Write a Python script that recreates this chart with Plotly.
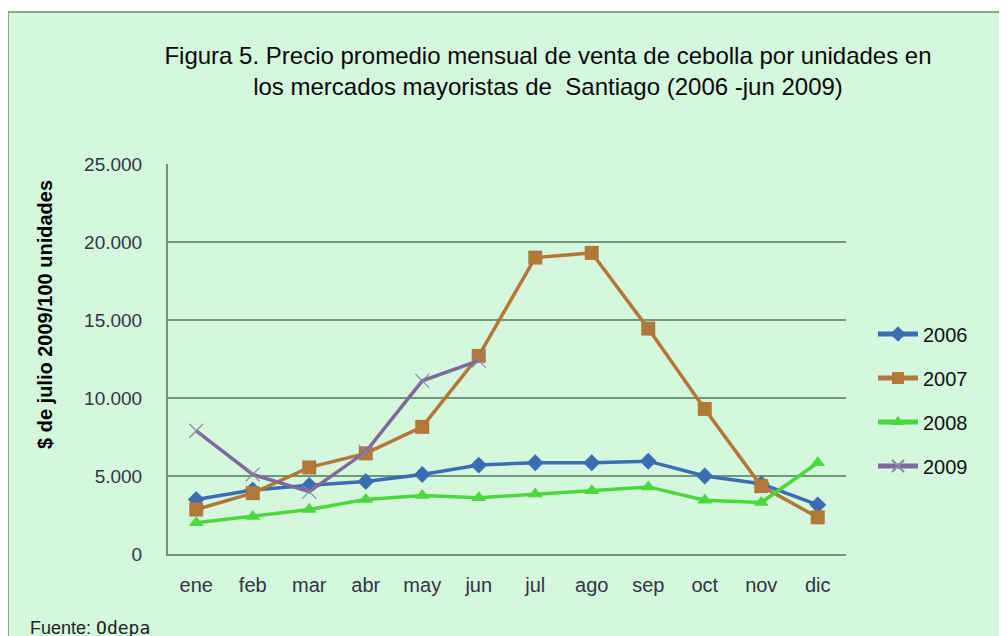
import plotly.graph_objects as go

months = ["ene", "feb", "mar", "abr", "may", "jun", "jul", "ago", "sep", "oct", "nov", "dic"]
y2006 = [3500, 4100, 4400, 4650, 5100, 5700, 5850, 5850, 5950, 5000, 4500, 3150]
y2007 = [2850, 3900, 5550, 6450, 8150, 12700, 19000, 19300, 14450, 9300, 4350, 2350]
y2008 = [2000, 2400, 2850, 3500, 3750, 3600, 3850, 4050, 4300, 3450, 3300, 5850]
months_2009 = ["ene", "feb", "mar", "abr", "may", "jun"]
y2009 = [7900, 5100, 4000, 6550, 11100, 12400]
y_ticks = [0, 5000, 10000, 15000, 20000, 25000]
y_tick_text = ["0", "5.000", "10.000", "15.000", "20.000", "25.000"]

BG = "#d5f7de"
GRID = "#6f9a78"
FONT = "Liberation Sans, Arial, sans-serif"

# page has an 8px body margin: figure coords = image coords - 8
L, T = 160, 156          # plot area left/top in figure coords
PW, PH = 678, 390        # plot area size
W, H = 1007, 636

def px(xi):
    return (xi - 8 - L) / PW

def py(yi):
    return (T + PH - (yi - 8)) / PH

fig = go.Figure()
fig.add_trace(go.Scatter(x=months, y=y2006, name="2006", mode="lines+markers",
                         line=dict(color="#3b6db3", width=3.5),
                         marker=dict(symbol="diamond", size=13, color="#3b6db3"),
                         legendgroup="a"))
fig.add_trace(go.Scatter(x=months, y=y2007, name="2007", mode="lines+markers",
                         line=dict(color="#b27838", width=3.5),
                         marker=dict(symbol="square", size=14, color="#b27838"),
                         legendgroup="b"))
fig.add_trace(go.Scatter(x=months, y=y2008, name="2008", mode="lines+markers",
                         line=dict(color="#4bd83c", width=3.5),
                         marker=dict(symbol="triangle-up", size=13, color="#4bd83c"),
                         legendgroup="c"))
fig.add_trace(go.Scatter(x=months_2009, y=y2009, name="2009", mode="lines+markers",
                         line=dict(color="#80689c", width=3.5),
                         marker=dict(symbol="x-thin", size=14, color="#8a85a8",
                                     line=dict(color="#8a85a8", width=1.2)),
                         legendgroup="d"))

fig.update_layout(
    width=W, height=H,
    margin=dict(l=L, r=W - L - PW, t=T, b=H - T - PH),
    paper_bgcolor="white",
    plot_bgcolor="rgba(0,0,0,0)",
    font=dict(family=FONT, size=17, color="#222222"),
    showlegend=True,
    legend=dict(x=px(873), y=py(400), xanchor="left", yanchor="middle",
                bgcolor="rgba(0,0,0,0)", tracegroupgap=15,
                itemsizing="constant",
                font=dict(size=20, color="#111111"), itemwidth=40),
    title=dict(text="Figura 5. Precio promedio mensual de venta de cebolla por unidades en<br>los mercados mayoristas de  Santiago (2006 -jun 2009)",
               x=(548 - 8) / W, xanchor="center", y=1 - (64 - 8) / H, yanchor="middle",
               font=dict(size=24, color="#0a0a0a", family=FONT)),
    shapes=[dict(type="rect", xref="paper", yref="paper",
                 x0=px(8), x1=1.4, y0=-0.4, y1=py(12),
                 fillcolor=BG, line=dict(color="#80b08a", width=2), layer="below")],
    annotations=[
        dict(text="<b>$ de julio 2009/100 unidades</b>", xref="paper", yref="paper",
             x=px(45), y=py(315), textangle=-90, showarrow=False,
             xanchor="center", yanchor="middle", font=dict(size=20, color="#000000")),
        dict(text="Fuente: <span style='font-family:DejaVu Sans Mono;font-size:18px'>Odepa</span>",
             xref="paper", yref="paper", x=px(28), y=py(627),
             xanchor="left", yanchor="middle", showarrow=False,
             font=dict(size=18, color="#222222")),
    ],
)
fig.update_xaxes(type="category", categoryorder="array", categoryarray=months,
                 range=[-0.5, 11.5], showgrid=False, showline=True, linecolor=GRID,
                 linewidth=2, ticks="", ticklabelstandoff=12,
                 tickfont=dict(size=20, color="#333344"))
fig.update_yaxes(range=[0, 25000], tickvals=y_ticks, ticktext=y_tick_text,
                 showgrid=True, gridcolor=GRID, gridwidth=1.5, showline=True,
                 linecolor=GRID, linewidth=2, zeroline=False, ticks="",
                 ticklabelstandoff=20, tickfont=dict(size=19, color="#333344"))

fig.write_html("out.html")
